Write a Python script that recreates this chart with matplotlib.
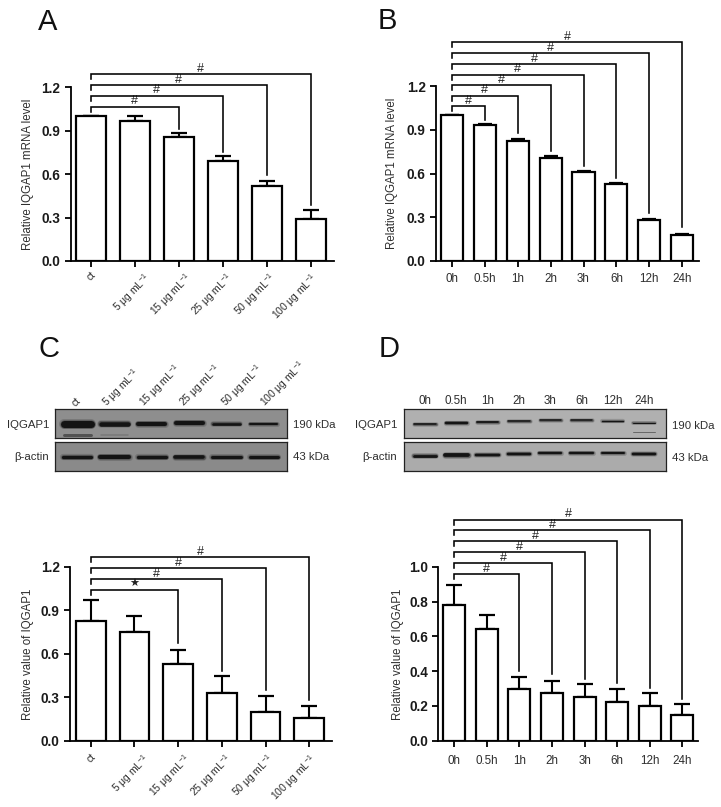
import matplotlib
matplotlib.use("Agg")
import matplotlib.pyplot as plt
from matplotlib.transforms import ScaledTranslation

plt.rcParams['font.family'] = ['Liberation Sans', 'DejaVu Sans']
plt.rcParams['mathtext.default'] = 'regular'

W, H = 721, 807
DOSE = ['ct', '5 μg mL$^{-1}$', '15 μg mL$^{-1}$', '25 μg mL$^{-1}$', '50 μg mL$^{-1}$', '100 μg mL$^{-1}$']
TIME = ['0h', '0.5h', '1h', '2h', '3h', '6h', '12h', '24h']

a_vals = [1.0, 0.97, 0.86, 0.69, 0.515, 0.29]
a_tops = [1.0, 1.005, 0.885, 0.725, 0.555, 0.35]
a_targets = [2, 3, 4, 5]
a_br_top = [1.066, 1.142, 1.216, 1.292]
a_br_end = [0.91, 0.755, 0.594, 0.387]
a_marks = ['#', '#', '#', '#']

b_vals = [1.0, 0.93, 0.825, 0.705, 0.61, 0.53, 0.28, 0.175]
b_tops = [1.0, 0.938, 0.838, 0.718, 0.618, 0.533, 0.288, 0.183]
b_targets = [1, 2, 3, 4, 5, 6, 7]
b_br_top = [1.06, 1.134, 1.205, 1.278, 1.351, 1.426, 1.499]
b_br_end = [0.967, 0.875, 0.757, 0.651, 0.567, 0.331, 0.235]
b_marks = ['#'] * 7

c_vals = [0.83, 0.749, 0.528, 0.327, 0.2, 0.154]
c_tops = [0.97, 0.864, 0.627, 0.447, 0.309, 0.24]
c_targets = [2, 3, 4, 5]
c_br_top = [1.044, 1.118, 1.194, 1.27]
c_br_end = [0.673, 0.484, 0.35, 0.281]
c_marks = ['★', '#', '#', '#']

d_vals = [0.781, 0.641, 0.299, 0.274, 0.251, 0.221, 0.198, 0.148]
d_tops = [0.898, 0.722, 0.367, 0.344, 0.324, 0.299, 0.273, 0.213]
d_targets = [2, 3, 4, 5, 6, 7]
d_br_top = [0.96, 1.021, 1.084, 1.148, 1.211, 1.273]
d_br_end = [0.403, 0.384, 0.355, 0.334, 0.301, 0.24]
d_marks = ['#'] * 6

# blot band appearance per lane (pixels within a blot strip)
c_up_thick = [7, 4.5, 4, 4, 2.6, 2]
c_up_pos = [15.3, 15.3, 15.3, 13.8, 15.3, 15.3]
c_lo_thick = [3.2, 4, 3.2, 3.6, 3, 3]
c_lo_pos = [14.3, 14.3, 14.3, 14.3, 14.6, 14.3]
d_up_thick = [1.6, 2.4, 1.8, 1.5, 1.5, 1.5, 1.2, 1.0]
d_up_pos = [15.3, 14.3, 12.7, 11.7, 11.3, 11.3, 12.3, 14.3]
d_lo_thick = [2.8, 3.8, 2.5, 2.5, 2.2, 2.2, 2, 2.5]
d_lo_pos = [13.3, 13, 12.7, 12, 11, 10.3, 11, 12]
# faint secondary bands: lane, position, thickness, opacity
c_up_faint = [(0, 26, 3, 0.55), (1, 26, 1.5, 0.2)]
d_up_faint = [(7, 23, 1, 0.5)]

# sideways nudge (px) of the slanted dose labels relative to their ticks
dose_nudge = [0, 8, 5, 2, 1, 0]

TXT = '#2e2e2e'
fig = plt.figure(figsize=(W / 100, H / 100), dpi=100, facecolor='white')


def px_axes(x0, x1, ytop, ybot):
    return fig.add_axes([x0 / W, 1 - ybot / H, (x1 - x0) / W, (ybot - ytop) / H])


def panel(rect, first, step, width, vals, tops, targets, br_top, br_end, marks,
          labels, yticks, ylabel, ymax, rotate, cap, ylab_x, xpad):
    x0, x1, ytop, ybot = rect
    ax = px_axes(x0, x1, ytop, ybot)
    ax.patch.set_alpha(0)
    ax.set_xlim((x0 - first) / step, (x1 - first) / step)
    ax.set_ylim(0, ymax)
    xs = list(range(len(vals)))
    ax.bar(xs, vals, width=width, facecolor='white', edgecolor='black', linewidth=1.6, zorder=3)
    errs = [t - v for t, v in zip(tops, vals)]
    ax.errorbar(xs, vals, yerr=[[0] * len(vals), errs], fmt='none', ecolor='black',
                elinewidth=1.5, capsize=cap, capthick=1.6, zorder=2)
    unit = (ybot - ytop) / ymax
    drop = 5.0 / unit
    for tgt, top, end, mark in zip(targets, br_top, br_end, marks):
        ax.plot([0, 0, tgt, tgt], [top - drop, top, top, end], color='black', lw=1.15,
                clip_on=False, solid_joinstyle='miter', zorder=4)
        fs = 8 if mark == '★' else 9
        ax.annotate(mark, (tgt / 2, top), xytext=(0, 3.8), textcoords='offset points',
                    ha='center', va='center', fontsize=fs, color='#222222', annotation_clip=False)
    for s in ('top', 'right'):
        ax.spines[s].set_visible(False)
    for s in ('left', 'bottom'):
        ax.spines[s].set_linewidth(1.3)
    ax.set_yticks(yticks)
    ax.set_yticklabels([f'{t:.1f}' for t in yticks], fontsize=9.8, fontweight='bold', color='#1a1a1a')
    ax.set_xticks(xs)
    ax.tick_params(axis='both', width=1.3, length=4.5, pad=3)
    ax.tick_params(axis='x', pad=xpad)
    if rotate:
        ax.set_xticklabels(labels, rotation=45, ha='right', rotation_mode='anchor', fontsize=7.4, color=TXT)
        for lab, n in zip(ax.get_xticklabels(), dose_nudge):
            lab.set_transform(lab.get_transform() + ScaledTranslation(n / 100, 0, fig.dpi_scale_trans))
    else:
        ax.set_xticklabels(labels, fontsize=8.4, color=TXT)
    fig.text(ylab_x / W, 1 - (ytop + ybot) / 2 / H, ylabel, rotation=90, ha='center', va='center',
             fontsize=8.3, color=TXT)
    return ax


panel((70.7, 334, 87.3, 261), 90.7, 44.0, 0.68, a_vals, a_tops, a_targets, a_br_top, a_br_end, a_marks,
      DOSE, [0, 0.3, 0.6, 0.9, 1.2], 'Relative IQGAP1 mRNA level', 1.2, True, 6, 28.5, 2)
panel((436, 699, 86, 261), 451.7, 32.95, 0.67, b_vals, b_tops, b_targets, b_br_top, b_br_end, b_marks,
      TIME, [0, 0.3, 0.6, 0.9, 1.2], 'Relative IQGAP1 mRNA level', 1.2, False, 4.8, 392, 3.8)
panel((70, 331.7, 567, 740.7), 90.7, 43.7, 0.68, c_vals, c_tops, c_targets, c_br_top, c_br_end, c_marks,
      DOSE, [0, 0.3, 0.6, 0.9, 1.2], 'Relative value of IQGAP1', 1.2, True, 6, 28.5, 3.5)
panel((438.3, 698, 567, 740.7), 454.3, 32.57, 0.675, d_vals, d_tops, d_targets, d_br_top, d_br_end, d_marks,
      TIME, [0, 0.2, 0.4, 0.6, 0.8, 1.0], 'Relative value of IQGAP1', 1.0, False, 6, 397.5, 6)


def blot(rect, first, step, half, thick, pos, bg, faint=()):
    x0, x1, ytop, ybot = rect
    ax = px_axes(x0, x1, ytop, ybot)
    ax.set_xlim((x0 - first) / step, (x1 - first) / step)
    ax.set_ylim(ybot - ytop, 0)
    ax.set_xticks([])
    ax.set_yticks([])
    ax.set_facecolor(bg)
    for s in ax.spines.values():
        s.set_linewidth(0.9)
        s.set_color('#222222')
    for i, (t, p) in enumerate(zip(thick, pos)):
        for extra, alpha in ((3.0, 0.18), (1.5, 0.35), (0, 1.0)):
            ax.plot([i - half, i + half], [p, p], color='#141414', alpha=alpha,
                    lw=(t + extra) * 0.72, solid_capstyle='round')
    for lane, p, t, alpha in faint:
        ax.plot([lane - half, lane + half], [p, p], color='#222222', alpha=alpha,
                lw=t * 0.72, solid_capstyle='round')
    return ax


blot((55, 287, 409, 438.3), 77.3, 37.3, 0.36, c_up_thick, c_up_pos, '#8e8e8e', c_up_faint)
blot((55, 287, 442.3, 471), 77.3, 37.3, 0.38, c_lo_thick, c_lo_pos, '#8a8a8a')
blot((404.3, 665.7, 409, 438.3), 425, 31.3, 0.34, d_up_thick, d_up_pos, '#b0b0b0', d_up_faint)
blot((404.3, 665.7, 442.3, 471), 425, 31.3, 0.36, d_lo_thick, d_lo_pos, '#ababab')


def ptext(x, y, s, **kw):
    fig.text(x / W, 1 - y / H, s, **kw)


for s, x, y in (('A', 38, 30), ('B', 378, 29), ('C', 38, 357), ('D', 378.5, 357)):
    ptext(x, y, s, fontsize=21, color='#111111', ha='left', va='baseline')

# blot captions
for x, s in zip((74, 104, 141.5, 181.5, 223.5, 262.5), DOSE):
    ptext(x, 404.5, s, rotation=45, rotation_mode='anchor', ha='left', va='center',
          fontsize=7.4, color=TXT)
lane_x_d = [425 + 31.3 * i for i in range(len(TIME))]
for x, s in zip(lane_x_d, TIME):
    ptext(x, 401, s, ha='center', va='center', fontsize=8.4, color=TXT)

for x, y, s in ((49, 424.5, 'IQGAP1'), (49, 457, 'β-actin'), (397, 425.5, 'IQGAP1'), (397, 457, 'β-actin')):
    ptext(x, y, s, ha='right', va='center', fontsize=8.2, color=TXT)
for x, y, s in ((293, 424.5, '190 kDa'), (293, 457.5, '43 kDa'), (672, 426, '190 kDa'), (672, 458, '43 kDa')):
    ptext(x, y, s, ha='left', va='center', fontsize=8.2, color=TXT)

fig.savefig('out.png', dpi=100, facecolor='white')
